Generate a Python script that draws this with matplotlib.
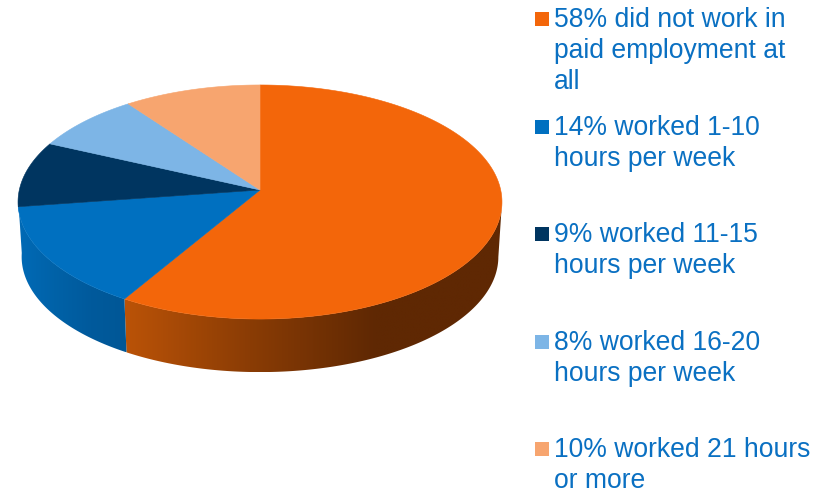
import numpy as np
import matplotlib
matplotlib.use("Agg")
import matplotlib.pyplot as plt
from matplotlib.colors import LinearSegmentedColormap
from matplotlib.patches import Polygon, Rectangle

# share of respondents, as labelled
values = [58, 14, 9, 8, 10]
labels = [
    ["58% did not work in", "paid employment at", "all"],
    ["14% worked 1-10", "hours per week"],
    ["9% worked 11-15", "hours per week"],
    ["8% worked 16-20", "hours per week"],
    ["10% worked 21 hours", "or more"],
]
colors = ["#f3660a", "#0070c0", "#003560", "#7db5e6", "#f7a56f"]
text_color = "#0a70c2"

# shading of the pie's outer wall, left to right
side_grads = {
    0: ("#bb5307", "#8a3c05", "#5f2803", "#5f2803"),
    1: ("#006ab6", "#0062a8", "#005a9c", "#005796"),
}

CX, CY = 260, 190      # apex of the pie on the page
RX, RY = 240.7, 115.8
PERSP = 0.1026         # near side of the disc looks bigger
DEPTH = 55
SHRINK = 0.985
WALL_FROM, WALL_TO = 96, 266  # part of the rim that shows a wall


def rim(deg, bottom=False):
    # deg runs clockwise from 12 o'clock
    t = np.radians(deg)
    d = 1 + PERSP * np.cos(t)
    x = RX * np.sin(t) / d
    y = -RY * np.cos(t) / d
    if bottom:
        x, y = x * SHRINK, y * SHRINK + DEPTH
    return CX + x, CY + y


fig = plt.figure(figsize=(8.26, 4.9), dpi=100)
ax = fig.add_axes([0, 0, 1, 1])

edges = np.cumsum([0] + values) / sum(values) * 360

# outer wall first, the top surface covers what is left over
for i, grad in side_grads.items():
    a = max(edges[i], WALL_FROM)
    b = WALL_TO if i == 1 else min(edges[i + 1], WALL_TO)
    ang = np.linspace(a, b, 200)
    xt, yt = rim(ang)
    xb, yb = rim(ang[::-1], bottom=True)
    pts = np.column_stack([np.r_[xt, xb], np.r_[yt, yb]])
    poly = Polygon(pts, closed=True, fc="none", ec="none")
    ax.add_patch(poly)
    cmap = LinearSegmentedColormap.from_list(f"side{i}", grad)
    im = ax.imshow(np.linspace(0, 1, 256).reshape(1, -1), cmap=cmap, aspect="auto",
                   extent=[pts[:, 0].min(), pts[:, 0].max(), pts[:, 1].max(), pts[:, 1].min()],
                   zorder=1, interpolation="bilinear")
    im.set_clip_path(poly)

for i, c in enumerate(colors):
    ang = np.linspace(edges[i], edges[i + 1], 200)
    x, y = rim(ang)
    pts = np.column_stack([np.r_[CX, x], np.r_[CY, y]])
    ax.add_patch(Polygon(pts, closed=True, fc=c, ec=c, lw=0.4, zorder=2))

# legend, one line of text at a time
first_base = [27, 135, 242, 350, 457]
for lines, c, y0 in zip(labels, colors, first_base):
    ax.add_patch(Rectangle((535, y0 - 15), 14, 14, fc=c, ec="none", zorder=3))
    for k, line in enumerate(lines):
        ax.text(554, y0 + k * 31, line, fontsize=19.1, family="Liberation Sans",
                color=text_color, va="baseline", ha="left")

ax.set_xlim(0, 826)
ax.set_ylim(490, 0)
ax.axis("off")

fig.savefig("out.png", dpi=100)
